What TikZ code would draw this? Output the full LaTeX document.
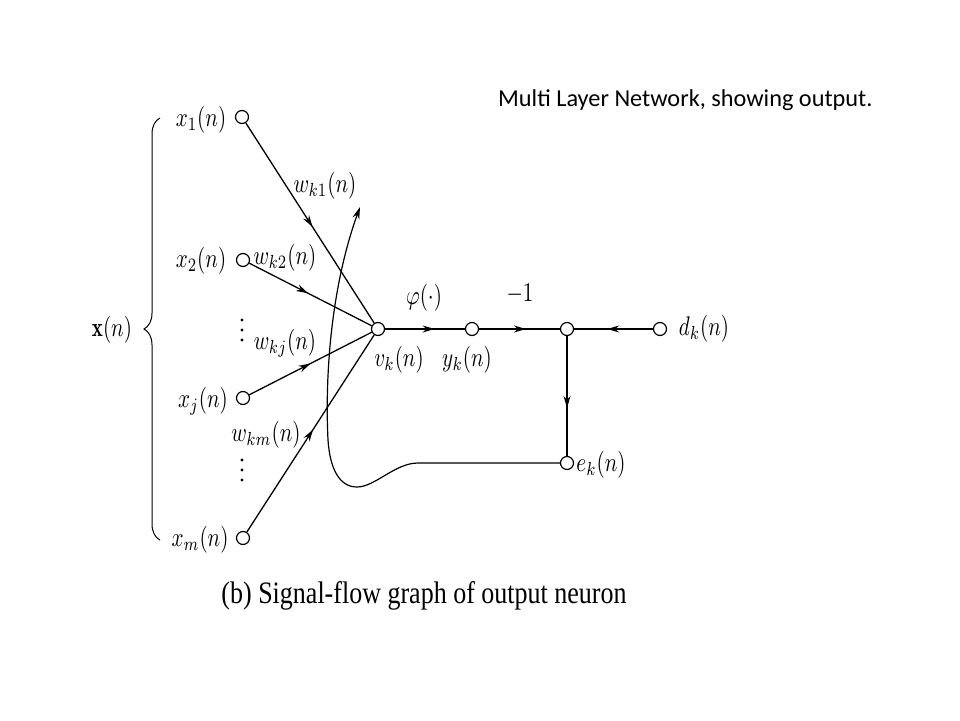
\documentclass[tikz,border=0pt]{standalone}
\usepackage{amsmath}
\usepackage{fontspec}
\newfontfamily\titlefont{Carlito}
\newfontfamily\capfont{Liberation Serif}
\usetikzlibrary{arrows.meta}
\usetikzlibrary{decorations.markings}
\usetikzlibrary{decorations.pathreplacing}

\begin{document}
\begin{tikzpicture}[x=1pt,y=1pt,yscale=-1,xscale=1,
  pin/.style={draw,circle,fill=white,line width=1.2pt,inner sep=0pt,minimum size=13pt},
  lbl/.style={xscale=2.1,yscale=2.7},
  flow/.style={line width=1.3pt,postaction={decorate},decoration={markings,mark=at position #1 with {\arrow{Stealth[length=12pt,width=7pt]}}}}]
%set diagram area: 960 x 720
\path [use as bounding box] (0,0) rectangle (960,720);

%Shape: Circles
\node [pin] (x1) at (242,117) {};
\node [pin] (x2) at (243,260) {};
\node [pin] (xj) at (243,398) {};
\node [pin] (xm) at (243,538) {};
\node [pin] (vk) at (378,329) {};
\node [pin] (yk) at (472,329) {};
\node [pin] (jn) at (567,329) {};
\node [pin] (dk) at (660,329) {};
\node [pin] (ek) at (567,463) {};
\coordinate (tip) at (360,207);

%Straight Lines: inputs
\draw [flow=0.52] (x1) -- (vk);
\draw [flow=0.48] (x2) -- (vk);
\draw [flow=0.5] (xj) -- (vk);
\draw [flow=0.52] (xm) -- (vk);

%Straight Lines: output path
\draw [flow=0.62] (vk) -- (yk);
\draw [flow=0.58] (yk) -- (jn);
\draw [flow=0.58] (dk) -- (jn);
\draw [flow=0.6] (jn) -- (ek);

%Curve Lines: error fed back
\draw [line width=1.2pt,-{Stealth[length=12pt,width=7pt]}] (ek) -- (418,463) .. controls (395,463) and (375,487) .. (357,487) .. controls (340,487) and (330,470) .. (328,440) .. controls (325,380) and (330,290) .. (tip);

%Brace
\draw [line width=1pt,decorate,decoration={brace,amplitude=16pt}] (160,540) -- (160,118);

%Dots
\foreach \y in {320,330,340,460,470,480}
  \fill (242,\y) circle (1.7);

% Text Node
\node [lbl] (lx1) at (201,120) {$x_1(n)$};
% Text Node
\node [lbl] (lx2) at (201,261) {$x_2(n)$};
% Text Node
\node [lbl] (lxj) at (203,401) {$x_j(n)$};
% Text Node
\node [lbl] (lxm) at (200,540) {$x_m(n)$};
% Text Node
\node [lbl] (lx) at (112,330) {$\mathbf{x}(n)$};
% Text Node
\node [lbl] (lw1) at (325,186) {$w_{k1}(n)$};
% Text Node
\node [lbl] (lw2) at (285,258) {$w_{k2}(n)$};
% Text Node
\node [lbl] (lwj) at (285,343) {$w_{kj}(n)$};
% Text Node
\node [lbl] (lwm) at (266,435) {$w_{km}(n)$};
% Text Node
\node [lbl] (lphi) at (424,298) {$\varphi(\cdot)$};
% Text Node
\node [lbl] (lgain) at (520,294) {$-1$};
% Text Node
\node [lbl] (lvk) at (399,360) {$v_k(n)$};
% Text Node
\node [lbl] (lyk) at (467,360) {$y_k(n)$};
% Text Node
\node [lbl] (ldk) at (704,329) {$d_k(n)$};
% Text Node
\node [lbl] (lek) at (601,465) {$e_k(n)$};
% Text Node
\node [anchor=base,yscale=1.2,font=\capfont\fontsize{26}{30}\selectfont] (cap) at (424,603) {(b) Signal-flow graph of output neuron};
% Text Node
\node [anchor=base west,inner sep=0pt,font=\titlefont\fontsize{24.3}{28}\selectfont] (title) at (498,106) {Multi Layer Network, showing output.};

\end{tikzpicture}
\end{document}
